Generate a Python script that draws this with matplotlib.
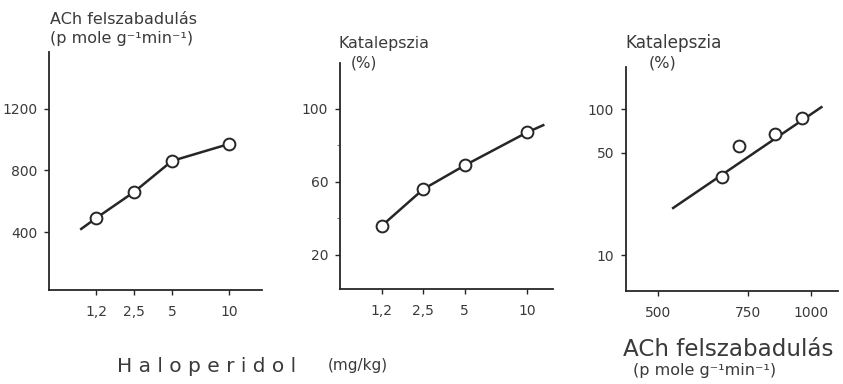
import numpy as np
import matplotlib
matplotlib.use("Agg")
import matplotlib.pyplot as plt

# ---- data ----
dose = [1.2, 2.5, 5, 10]
dose_labels = ["1,2", "2,5", "5", "10"]
ach_release = [490, 660, 862, 972]
ach_line_start = [0.9, 420]          # line extended to the left of first point
catalepsy = [36, 56, 69, 87]
cat_line_end = [12, 91]              # line extended to the right of last point

corr_ach = [668, 850, 960]
corr_cat = [34, 67, 87]
outlier_ach = [721]
outlier_cat = [56]
reg_ach = [535, 1048]
reg_cat = [21, 103]

ticks_p1 = [400, 800, 1200]
ticks_p2 = [20, 60, 100]
minor_p2 = [40, 80]
ticks_p3y = [10, 50, 100]
ticks_p3x = [500, 750, 1000]

# ---- style ----
INK = "#262626"
TXT = "#3a3a3a"
W, H = 843, 384
plt.rcParams['font.family'] = ['DejaVu Sans']

fig = plt.figure(figsize=(W / 100, H / 100), dpi=100)
fig.patch.set_facecolor("white")

# dose axis: drawn spacing of the original (piecewise in log dose)
kx = np.log(np.array(dose, dtype=float))
ky = np.array([0.0, 1.0, 2.0, 3.5])


def _pw(v, xs, ys):
    y = np.interp(v, xs, ys)
    lo = v < xs[0]
    hi = v > xs[-1]
    y = np.where(lo, ys[0] + (v - xs[0]) * (ys[1] - ys[0]) / (xs[1] - xs[0]), y)
    y = np.where(hi, ys[-1] + (v - xs[-1]) * (ys[-1] - ys[-2]) / (xs[-1] - xs[-2]), y)
    return y


def fwd(x):
    x = np.asarray(x, dtype=float)
    return _pw(np.log(np.maximum(x, 1e-9)), kx, ky)


def inv(u):
    u = np.asarray(u, dtype=float)
    return np.exp(_pw(u, ky, kx))


def px_axes(l, r, b, t):
    return fig.add_axes([l / W, 1 - b / H, (r - l) / W, (b - t) / H])


def style(ax):
    for s in ("top", "right"):
        ax.spines[s].set_visible(False)
    for s in ("left", "bottom"):
        ax.spines[s].set_linewidth(1.3)
        ax.spines[s].set_color(INK)
    ax.tick_params(direction="out", length=3.5, width=1.0, color=INK,
                   labelsize=10, labelcolor=TXT, pad=5)
    ax.tick_params(axis="x", pad=7)
    ax.set_facecolor("none")


mk = dict(marker="o", markersize=8.5, markerfacecolor="white",
          markeredgecolor=INK, markeredgewidth=1.4)

# ---- panel 1 ----
ax1 = px_axes(49, 262, 290, 52)
style(ax1)
ax1.set_xscale("function", functions=(fwd, inv))
ax1.plot([ach_line_start[0], dose[0]], [ach_line_start[1], ach_release[0]],
         color=INK, lw=1.8, zorder=2)
ax1.plot(dose, ach_release, color=INK, lw=1.8, zorder=2, **mk)
ax1.set_xlim(float(inv(-1.24)), float(inv(4.37)))
ax1.set_ylim(23, 1570)
ax1.set_xticks(dose)
ax1.set_xticklabels(dose_labels)
ax1.set_yticks(ticks_p1)
ax1.xaxis.set_minor_locator(matplotlib.ticker.NullLocator())

# ---- panel 2 ----
ax2 = px_axes(340, 553, 289, 63)
style(ax2)
ax2.set_xscale("function", functions=(fwd, inv))
ax2.plot([dose[-1], cat_line_end[0]], [catalepsy[-1], cat_line_end[1]],
         color=INK, lw=1.8, zorder=2)
ax2.plot(dose, catalepsy, color=INK, lw=1.8, zorder=2, **mk)
ax2.set_xlim(float(inv(-1.01)), float(inv(4.13)))
ax2.set_ylim(1.4, 125)
ax2.set_xticks(dose)
ax2.set_xticklabels(dose_labels)
ax2.set_yticks(ticks_p2)
ax2.set_yticks(minor_p2, minor=True)
ax2.tick_params(axis="y", which="minor", length=2.5, width=0.8, color="#777777")
ax2.xaxis.set_minor_locator(matplotlib.ticker.NullLocator())

# ---- panel 3 ----
ax3 = px_axes(626, 838, 291, 67)
style(ax3)
ax3.set_xscale("log")
ax3.set_yscale("log")
ax3.plot(reg_ach, reg_cat, color=INK, lw=1.8, zorder=2)
ax3.plot(corr_ach, corr_cat, linestyle="none", zorder=3, **mk)
ax3.plot(outlier_ach, outlier_cat, linestyle="none", zorder=3, **mk)
ax3.set_xlim(432, 1130)
ax3.set_ylim(5.67, 194)
ax3.xaxis.set_minor_locator(matplotlib.ticker.NullLocator())
ax3.yaxis.set_minor_locator(matplotlib.ticker.NullLocator())
ax3.set_xticks(ticks_p3x)
ax3.set_xticklabels([str(t) for t in ticks_p3x])
ax3.set_yticks(ticks_p3y)
ax3.set_yticklabels([str(t) for t in ticks_p3y])


# ---- texts (baseline positioned) ----
def ftext(x, y, s, size, **kw):
    fig.text(x / W, 1 - y / H, s, fontsize=size, color=TXT,
             ha=kw.pop("ha", "left"), va="baseline", **kw)


ftext(50, 24, "ACh felszabadulás", 11.5)
ftext(50, 43, "(p mole g\u207b\u00b9min\u207b\u00b9)", 11.5)
ftext(339, 48, "Katalepszia", 11.4)
ftext(351, 67, "(%)", 11)
ftext(625, 48, "Katalepszia", 12.2)
ftext(649, 68, "(%)", 11.5)
ftext(117, 372, "H a l o p e r i d o l", 14.5)
ftext(328, 370, "(mg/kg)", 11)
ftext(623, 356, "ACh felszabadulás", 16.6)
ftext(633, 375, "(p mole g\u207b\u00b9min\u207b\u00b9)", 11.5)

fig.savefig("out.png", dpi=100, facecolor="white")
